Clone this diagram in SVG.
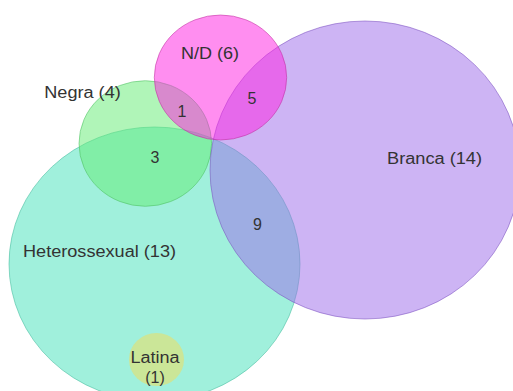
<svg xmlns="http://www.w3.org/2000/svg" width="513" height="391" viewBox="0 0 513 391">
  <style>
    .set { fill-opacity: 0.5; stroke-width: 1; stroke-opacity: 0.55; }
    .lbl { font-family: "Liberation Sans", Arial, sans-serif; font-size: 16px; fill: #333; text-anchor: middle; }
  </style>
  <rect width="513" height="391" fill="#ffffff"/>
  <g id="heterossexual">
    <ellipse class="set" cx="154.5" cy="264" rx="145.5" ry="137" fill="#41e1b9" stroke="#3fb99a"/>
    <text class="lbl" x="99.5" y="256.5" textLength="153" lengthAdjust="spacingAndGlyphs">Heterossexual (13)</text>
  </g>
  <g id="negra">
    <ellipse class="set" cx="145.3" cy="143.5" rx="66.3" ry="62.8" fill="#61eb71" stroke="#4cc060"/>
    <text class="lbl" x="82.5" y="97.5" textLength="76.5" lengthAdjust="spacingAndGlyphs">Negra (4)</text>
  </g>
  <g id="branca">
    <ellipse class="set" cx="365" cy="170" rx="155" ry="149" fill="#9b69e9" stroke="#7a4fc0"/>
    <text class="lbl" x="434.5" y="164" textLength="95" lengthAdjust="spacingAndGlyphs">Branca (14)</text>
  </g>
  <g id="nd">
    <ellipse class="set" cx="220.5" cy="77.5" rx="66.2" ry="62.5" fill="#ff1de1" stroke="#c0309f"/>
    <text class="lbl" x="210" y="59" textLength="58" lengthAdjust="spacingAndGlyphs">N/D (6)</text>
  </g>
  <g id="latina">
    <ellipse cx="156.5" cy="359.5" rx="27.5" ry="26.5" fill="#cde594" fill-opacity="0.95"/>
    <text class="lbl" x="155" y="362.5" textLength="49" lengthAdjust="spacingAndGlyphs">Latina</text>
    <text class="lbl" x="155" y="382.5">(1)</text>
  </g>
  <g id="counts">
    <text class="lbl" x="182" y="117">1</text>
    <text class="lbl" x="252" y="104">5</text>
    <text class="lbl" x="155" y="163">3</text>
    <text class="lbl" x="257.5" y="230">9</text>
  </g>
  <g id="connectors"></g>
</svg>
